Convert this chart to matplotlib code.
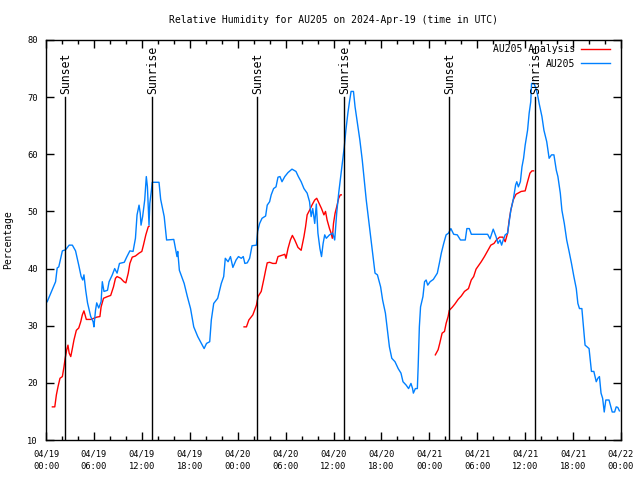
import numpy as np
import pandas as pd
import matplotlib
matplotlib.use('Agg')
import matplotlib.pyplot as plt
import matplotlib.dates as mdates

# Start of the plotted period (UTC); all times below are hours after this
START = pd.Timestamp('2024-04-19 00:00')

# AU205 observations (hours after start, relative humidity %)
obs_hours = [0.15, 1.2, 1.4, 1.6, 2.05, 2.46, 2.9, 3.3, 3.7, 4.1, 4.4, 4.6, 4.75, 4.97,
             5.2, 5.6, 5.9, 6.0, 6.2, 6.35, 6.6, 6.9, 7.05, 7.26, 7.7, 7.9, 8.3, 8.6,
             8.9, 9.2, 9.8, 10.1, 10.5, 10.9, 11.2, 11.4, 11.65, 11.8, 11.9, 12.1,
             12.36, 12.56, 12.7, 12.9, 13.0, 13.2, 13.3, 14.15, 14.36, 14.8, 15.1,
             16.0, 16.4, 16.5, 16.7, 17.3, 17.7, 18.1, 18.5, 19.0, 19.45, 19.8, 20.1,
             20.5, 20.7, 21.0, 21.5, 21.95, 22.25, 22.45, 22.8, 23.1, 23.4, 23.8,
             24.1, 24.45, 24.7, 24.9, 25.2, 25.5, 25.8, 26.35, 26.5, 26.75, 27.05,
             27.5, 27.7, 28.0, 28.2, 28.5, 28.8, 29.05, 29.3, 29.55, 29.9, 30.3,
             30.8, 31.3, 31.6, 31.95, 32.3, 32.7, 33.0, 33.2, 33.4, 33.65, 33.85,
             34.05, 34.3, 34.5, 34.7, 34.9, 35.1, 35.5, 35.9, 36.15, 36.4, 36.65,
             36.85, 37.05, 37.35, 37.55, 37.8, 38.0, 38.2, 38.5, 38.7, 39.0, 39.3,
             39.6, 39.85, 40.1, 40.4, 40.7, 41.0, 41.2, 41.5, 41.9, 42.15, 42.5,
             42.8, 43.0, 43.3, 43.7, 44.1, 44.45, 44.7, 45.1, 45.4, 45.7, 45.9,
             46.0, 46.25, 46.5, 46.6, 46.75, 46.9, 47.2, 47.4, 47.6, 47.8, 48.1,
             48.5, 49.0, 49.25, 49.5, 49.8, 50.1, 50.4, 50.7, 51.05, 51.5, 51.9,
             52.5, 52.7, 53.0, 53.26, 55.3, 55.6, 56.0, 56.35, 56.6, 56.85, 57.05,
             57.25, 57.5, 57.8, 58.0, 58.2, 58.5, 58.8, 58.95, 59.15, 59.4, 59.6,
             59.8, 60.0, 60.3, 60.5, 60.7, 60.8, 61.1, 61.35, 61.55, 61.75, 62.1,
             62.35, 62.7, 63.0, 63.3, 63.6, 63.9, 64.1, 64.4, 64.6, 64.9, 65.2,
             65.5, 65.8, 66.1, 66.4, 66.6, 66.8, 67.1, 67.3, 67.5, 68.0, 68.2,
             68.3, 68.6, 68.9, 69.1, 69.3, 69.5, 69.7, 69.9, 70.1, 70.5, 70.9,
             71.2, 71.4, 71.6, 71.8]
obs_values = [34.2, 37.7, 40.1, 40.3, 43.1, 43.3, 44.1, 44.1, 43.1, 40.6, 38.6, 38.0, 38.9, 36.2,
              34.0, 31.6, 30.7, 29.8, 32.7, 34.0, 33.1, 34.2, 37.7, 36.0, 36.2, 37.7, 38.9, 40.0,
              39.2, 40.9, 41.1, 42.0, 43.1, 43.0, 45.3, 49.4, 51.1, 49.7, 47.6, 49.1,
              52.0, 56.1, 54.3, 47.6, 51.4, 53.7, 55.1, 55.1, 52.1, 49.1, 45.0,
              45.1, 42.1, 43.0, 39.7, 37.4, 35.1, 33.0, 29.8, 28.1, 26.9, 26.0, 26.9,
              27.2, 31.0, 33.9, 34.8, 37.4, 38.6, 41.8, 41.2, 42.1, 40.2, 41.5,
              42.1, 41.8, 42.1, 40.9, 41.0, 41.8, 44.0, 44.1, 46.5, 47.9, 48.8,
              49.2, 51.1, 51.7, 52.9, 54.0, 54.3, 56.0, 56.1, 55.2, 56.1, 56.8,
              57.4, 57.0, 56.1, 55.2, 54.0, 53.2, 51.7, 49.1, 50.5, 47.9, 51.3,
              46.2, 43.5, 42.1, 44.4, 45.9, 45.3, 45.9, 46.2, 45.0, 49.7, 53.2,
              55.5, 57.8, 61.3, 64.2, 67.2, 69.2, 71.0, 71.0, 68.3, 65.4, 62.5,
              59.0, 55.5, 52.0, 48.5, 45.0, 41.5, 39.2, 38.9, 36.8, 34.5, 32.2,
              28.7, 26.3, 24.3, 23.7, 22.5, 21.7, 20.2, 19.6, 19.0, 19.9, 19.0,
              18.2, 19.0, 19.0, 22.8, 29.8, 33.3, 35.1, 37.7, 38.0, 37.1, 37.7,
              38.1, 39.2, 40.9, 42.7, 44.4, 45.9, 46.2, 47.0, 46.0, 45.9, 45.0,
              45.0, 47.0, 47.0, 46.0, 46.0, 45.2, 46.9, 45.6, 44.4, 45.0, 44.1,
              45.0, 45.9, 46.2, 48.2, 50.2, 52.0, 54.6, 55.2, 54.3, 55.2, 57.8,
              59.3, 61.6, 64.2, 67.2, 69.2, 72.4, 72.4, 71.5, 70.4, 68.9, 66.6,
              64.2, 62.2, 59.3, 59.9, 59.9, 57.2, 56.1, 53.2, 50.2, 47.9, 45.0,
              43.0, 40.9, 38.6, 36.5, 33.9, 33.0, 33.0, 29.8, 26.6, 26.0, 23.4,
              22.0, 22.0, 20.2, 20.8, 21.1, 18.2, 17.3, 14.9, 17.0, 17.0, 14.9,
              14.9, 15.8, 15.7, 15.1]

# AU205 analysis, three separate runs (None marks a gap)
ana_hours = [0.8, 1.1, 1.3, 1.5, 1.75, 2.05, 2.25, 2.4, 2.6, 2.75, 2.9, 3.1, 3.3, 3.5,
             3.8, 4.1, 4.35, 4.55, 4.75, 5.05, 5.6, 6.0, 6.35, 6.75, 6.9, 7.2, 7.7,
             8.1, 8.45, 8.7, 8.9, 9.35, 9.75, 10.0, 10.3, 10.5, 10.8, 11.2, 11.65,
             12.0, 12.2, 12.5, 12.8, 12.9, 13.0,
             24.8, 25.1, 25.4, 25.9, 26.35, 26.55, 26.95, 27.3, 27.5, 27.7, 28.0,
             28.4, 28.8, 29.05, 29.7, 29.9, 30.05, 30.3, 30.6, 30.85, 31.15, 31.55,
             31.95, 32.3, 32.5, 32.7, 33.0, 33.3, 33.65, 33.9, 34.2, 34.5, 34.8,
             35.0, 35.2, 35.5, 35.7, 35.85, 36.0, 36.2, 36.4, 36.65, 36.85, 36.98, 37.1,
             48.75, 49.1, 49.3, 49.6, 49.9, 50.1, 50.35, 50.5, 50.85, 51.2, 51.6,
             52.0, 52.4, 52.9, 53.25, 53.55, 53.85, 54.5, 54.9, 55.3, 55.7, 56.1,
             56.4, 56.8, 57.2, 57.5, 57.8, 58.0, 58.2, 58.5, 58.85, 59.5, 60.0,
             60.3, 60.6, 60.85, 61.05]
ana_values = [15.8, 15.8, 17.9, 19.3, 20.8, 21.1, 22.8, 24.3, 25.8, 26.6, 25.2, 24.6, 26.0, 27.5,
              29.2, 29.6, 30.7, 31.9, 32.6, 31.1, 31.1, 31.3, 31.5, 31.6, 33.3, 34.8, 35.1,
              35.3, 36.8, 38.3, 38.6, 38.3, 37.7, 37.5, 39.2, 40.9, 42.0, 42.2, 42.7,
              43.0, 44.1, 45.9, 47.3, 47.4, None,
              29.8, 29.8, 31.0, 31.9, 33.6, 35.1, 36.0, 38.3, 39.7, 41.0, 41.1,
              40.9, 40.9, 42.1, 42.4, 42.5, 41.8, 43.5, 45.0, 45.8, 45.0, 43.7,
              43.2, 45.6, 47.3, 49.4, 50.2, 51.1, 52.0, 52.3, 51.4, 50.5, 49.4,
              50.0, 48.5, 47.0, 46.2, 45.3, 47.9, 49.7, 50.8, 52.3, 52.9, 52.9, None,
              24.9, 25.8, 26.9, 28.7, 29.0, 30.4, 31.6, 32.7, 33.2, 33.8, 34.6,
              35.2, 36.0, 36.5, 38.0, 38.6, 39.9, 41.2, 42.1, 43.1, 44.1, 44.4,
              45.0, 45.5, 45.5, 44.7, 46.2, 48.5, 50.2, 52.0, 53.0, 53.5, 53.6,
              55.2, 56.7, 57.1, 57.1]

# Sun events (hours after start)
event_hours = [2.42, 13.31, 26.46, 37.36, 50.5, 61.27]
event_names = ['Sunset', 'Sunrise', 'Sunset', 'Sunrise', 'Sunset', 'Sunrise']

RED = '#ff0000'
BLUE = '#0080ff'
FONT = 'DejaVu Sans Mono'


def to_times(hours):
    """Turn hour offsets into timestamps (None stays a gap)."""
    return [START + pd.Timedelta(hours=h) if h is not None else pd.NaT for h in hours]


def main():
    plt.rcParams['font.family'] = FONT
    fig = plt.figure(figsize=(6.4, 4.8), dpi=100)
    ax = fig.add_axes([46 / 640, 40 / 480, 575 / 640, 400 / 480])

    ana_v = np.array(ana_values, dtype=float)
    ax.plot(to_times(ana_hours), ana_v, color=RED, linewidth=1, label='AU205 Analysis')
    ax.plot(to_times(obs_hours), obs_values, color=BLUE, linewidth=1, label='AU205')

    for h, name in zip(event_hours, event_names):
        t = START + pd.Timedelta(hours=h)
        ax.plot([t, t], [10, 70], color='black', linewidth=1)
        ax.text(t, 70.6, name, rotation=90, ha='center', va='bottom', fontsize=8.3)

    ax.set_xlim(START, START + pd.Timedelta(hours=72))
    ax.set_ylim(10, 80)
    ax.set_yticks(range(10, 81, 10))
    ax.xaxis.set_major_locator(mdates.HourLocator(byhour=[0, 6, 12, 18]))
    ax.xaxis.set_minor_locator(mdates.HourLocator(interval=2))
    ax.xaxis.set_major_formatter(mdates.DateFormatter('%m/%d\n%H:%M'))

    ax.tick_params(which='both', direction='in', top=True, right=True, labelsize=6.3, width=1)
    ax.tick_params(which='major', length=6)
    ax.tick_params(axis='x', which='major', pad=7)
    ax.tick_params(axis='y', which='major', pad=6)
    ax.tick_params(which='minor', length=3)
    plt.setp(ax.get_xticklabels(), linespacing=1.45)
    for spine in ax.spines.values():
        spine.set_linewidth(1)

    ax.set_title('Relative Humidity for AU205 on 2024-Apr-19 (time in UTC)', fontsize=7, pad=12)
    ax.set_ylabel('Percentage', fontsize=7, labelpad=10)

    leg = ax.legend(loc='upper right', bbox_to_anchor=((610 - 46) / 575, 0.99),
                    frameon=False, markerfirst=False, fontsize=7, borderpad=0,
                    borderaxespad=0, handlelength=3.0, handletextpad=0.6,
                    labelspacing=0.5)
    for txt in leg.get_texts():
        txt.set_ha('right')

    fig.savefig('out.png', dpi=100)
    plt.close(fig)


if __name__ == '__main__':
    main()
